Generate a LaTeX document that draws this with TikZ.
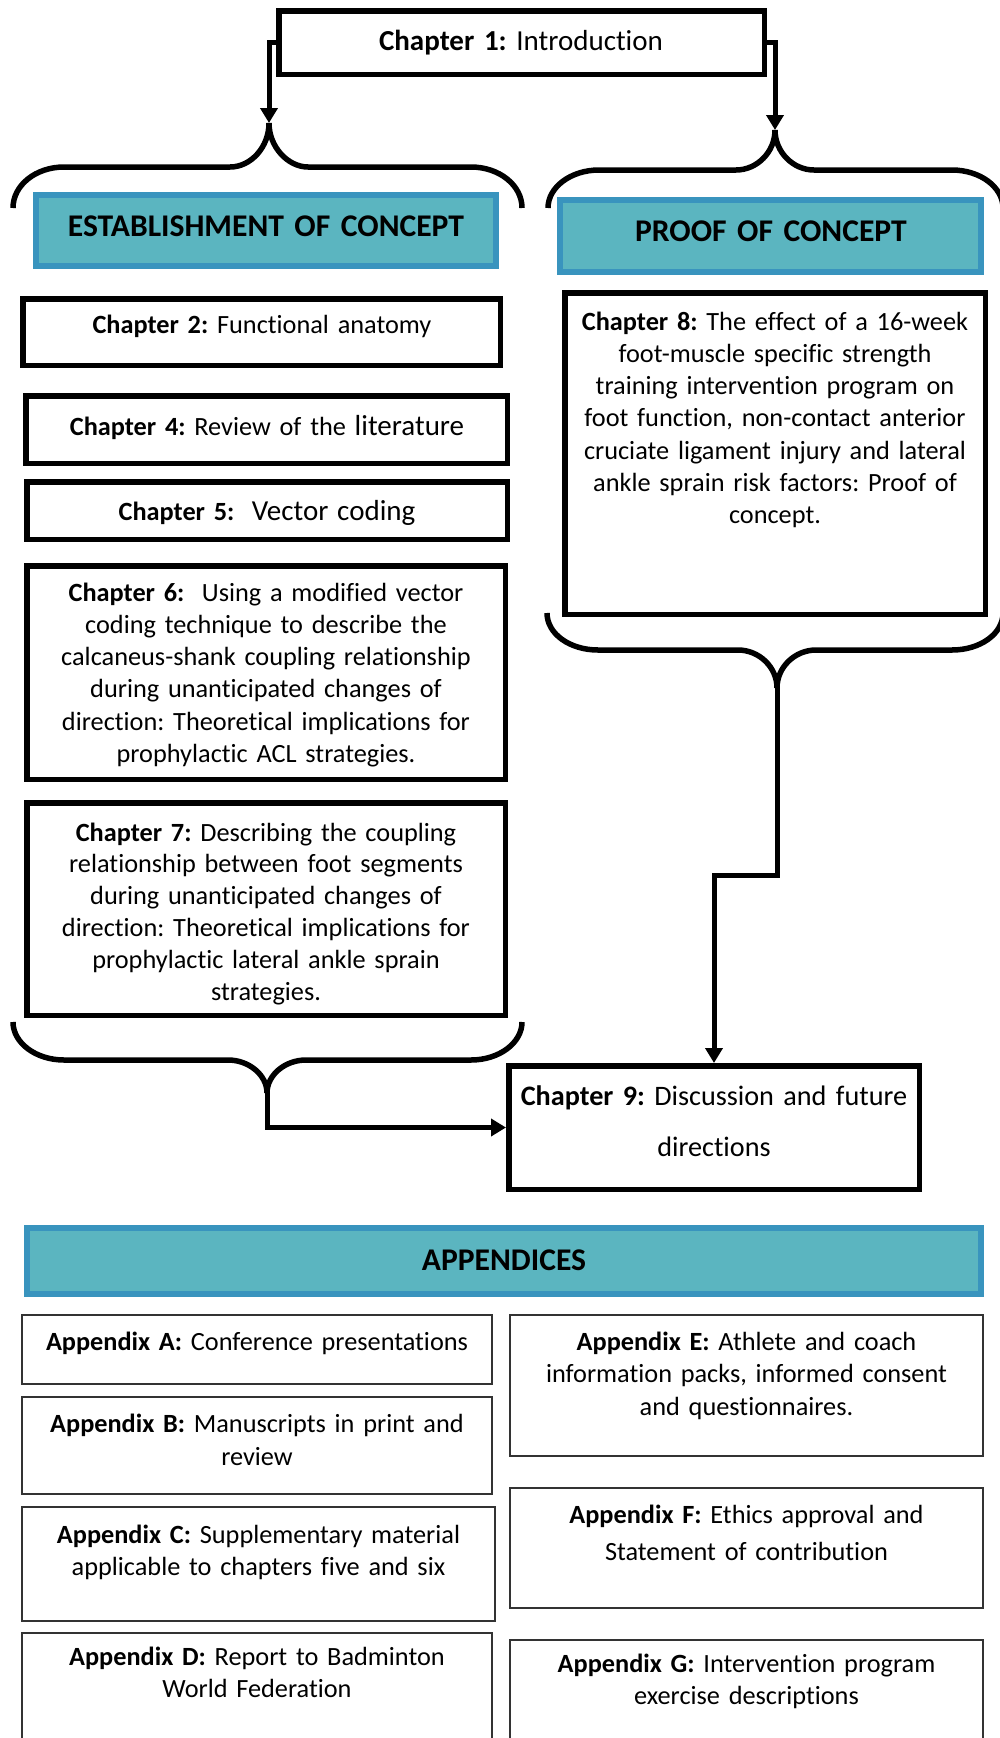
\documentclass[tikz,border=0pt]{standalone}
\usepackage{fontspec}
\setmainfont{Carlito}[Ligatures=NoCommon]
\usetikzlibrary{arrows.meta}
\definecolor{tealfill}{HTML}{5BB5C0}
\definecolor{tealedge}{HTML}{3994BE}
\definecolor{apedge}{HTML}{333333}
\frenchspacing
\hyphenpenalty=10000
\exhyphenpenalty=10000
\tikzset{
  chbox/.style={draw=black, line width=5.5pt, inner sep=0pt, rectangle},
  headbox/.style={draw=tealedge, fill=tealfill, line width=6pt, inner sep=0pt, rectangle},
  apbox/.style={draw=apedge, line width=2pt, inner sep=0pt, rectangle},
  txt/.style={anchor=base, inner sep=0pt, align=center, text width=#1},
  ften/.style={font=\fontsize{26.3}{32.3}\selectfont},
  feleven/.style={font=\fontsize{29}{35}\selectfont},
  fhead/.style={font=\fontsize{31.6}{38}\selectfont\bfseries},
  conn/.style={line width=5pt, -{Triangle[width=17pt,length=15pt]}},
  bracestyle/.style={line width=5.5pt},
}
\newcommand{\bigtxt}[1]{{\fontsize{29}{32.3}\selectfont #1}}
\begin{document}
\begin{tikzpicture}[x=1pt,y=-1pt]
\useasboundingbox (0,0) rectangle (1000,1738);
\fill[white] (0,0) rectangle (1000,1738);
\clip (0,0) rectangle (1000,1738);

% ---------- chapter boxes ----------
\node[chbox, minimum width=485.5pt, minimum height=63.5pt] (ch1) at (521.5,42.5) {};
\node[chbox, minimum width=477.5pt, minimum height=66.5pt] (ch2) at (261.5,332) {};
\node[chbox, minimum width=481.5pt, minimum height=67.5pt] (ch4) at (266.5,429.5) {};
\node[chbox, minimum width=480.5pt, minimum height=57.5pt] (ch5) at (267,510.5) {};
\node[chbox, minimum width=478.5pt, minimum height=213.5pt] (ch6) at (266,672.5) {};
\node[chbox, minimum width=478.5pt, minimum height=212.5pt] (ch7) at (266,909) {};
\node[chbox, minimum width=420.5pt, minimum height=321.5pt] (ch8) at (775,453.5) {};
\node[chbox, minimum width=410.5pt, minimum height=123.5pt] (ch9) at (714,1127.5) {};

% ---------- heading boxes ----------
\node[headbox, minimum width=460pt, minimum height=71pt] (est) at (266,230.5) {};
\node[headbox, minimum width=421pt, minimum height=72pt] (proof) at (770.5,236) {};
\node[headbox, minimum width=954pt, minimum height=66pt] (app) at (504,1261) {};

% ---------- appendix boxes ----------
\node[apbox, minimum width=470pt, minimum height=69pt] (apA) at (257,1349.5) {};
\node[apbox, minimum width=470pt, minimum height=97pt] (apB) at (257,1445.5) {};
\node[apbox, minimum width=473pt, minimum height=114pt] (apC) at (258.5,1564) {};
\node[apbox, minimum width=470pt, minimum height=126pt] (apD) at (257,1696) {};
\node[apbox, minimum width=473pt, minimum height=141pt] (apE) at (746.5,1385.5) {};
\node[apbox, minimum width=473pt, minimum height=120pt] (apF) at (746.5,1548) {};
\node[apbox, minimum width=473pt, minimum height=119pt] (apG) at (746.5,1699.5) {};

% ---------- texts ----------
\node[txt=470pt, feleven] (t1) at (521,50) {\textbf{Chapter 1:} Introduction};
\node[txt=450pt, fhead] (test) at (266,236) {ESTABLISHMENT OF CONCEPT};
\node[txt=410pt, fhead] (tproof) at (771,241) {PROOF OF CONCEPT};
\node[txt=900pt, fhead] (tapp) at (504,1270) {APPENDICES};

\node[txt=460pt, ften] (t2) at (262,333) {\textbf{Chapter 2:} Functional anatomy};
\node[txt=460pt, ften] (t4) at (267,435) {\textbf{Chapter 4:} Review of the \bigtxt{literature}};
\node[txt=460pt, ften] (t5) at (267,520) {\textbf{Chapter 5:}\ \ \bigtxt{Vector coding}};
\node[txt=460pt, ften] (t6) at (266,601) {\textbf{Chapter 6:}\ \ Using a modified vector\\coding technique to describe the\\calcaneus-shank coupling relationship\\during unanticipated changes of\\direction: Theoretical implications for\\prophylactic ACL strategies.};
\node[txt=460pt, font=\fontsize{26.3}{31.8}\selectfont] (t7) at (266,841) {\textbf{Chapter 7:} Describing the coupling\\relationship between foot segments\\during unanticipated changes of\\direction: Theoretical implications for\\prophylactic lateral ankle sprain\\strategies.};
\node[txt=410pt, ften] (t8) at (775,330) {\textbf{Chapter 8:} The effect of a 16-week\\foot-muscle specific strength\\training intervention program on\\foot function, non-contact anterior\\cruciate ligament injury and lateral\\ankle sprain risk factors: Proof of\\concept.};
\node[txt=405pt, font=\fontsize{28.2}{51}\selectfont] (t9) at (714,1105) {\textbf{Chapter 9:} Discussion and future\\directions};

\node[txt=460pt, ften] (tA) at (257,1350) {\textbf{Appendix A:} Conference presentations};
\node[txt=460pt, font=\fontsize{26.3}{33}\selectfont] (tB) at (257,1432) {\textbf{Appendix B:} Manuscripts in print and\\review};
\node[txt=460pt, font=\fontsize{26.3}{32}\selectfont] (tC) at (258.5,1543) {\textbf{Appendix C:} Supplementary material\\applicable to chapters five and six};
\node[txt=460pt, font=\fontsize{26.3}{32}\selectfont] (tD) at (257,1665) {\textbf{Appendix D:} Report to Badminton\\World Federation};
\node[txt=460pt, font=\fontsize{26.3}{32.5}\selectfont] (tE) at (746.5,1350) {\textbf{Appendix E:} Athlete and coach\\information packs, informed consent\\and questionnaires.};
\node[txt=460pt, font=\fontsize{26.3}{37}\selectfont] (tF) at (746.5,1523) {\textbf{Appendix F:} Ethics approval and\\Statement of contribution};
\node[txt=460pt, font=\fontsize{26.3}{32}\selectfont] (tG) at (746.5,1672) {\textbf{Appendix G:} Intervention program\\exercise descriptions};

% ---------- braces ----------
\coordinate (tipL1) at (269,123);
\coordinate (tipR1) at (775,130);
\coordinate (tipR2) at (777,688);
\coordinate (tipL2) at (267,1093);
\coordinate (bend) at (714,875);

\draw[bracestyle] (13,208) .. controls (13,185) and (36,167) .. (64,167) -- (230,167)
  .. controls (251,167) and (269,147) .. (tipL1)
  .. controls (269,147) and (288,167) .. (308,167) -- (471,167)
  .. controls (499,167) and (522,185) .. (522,208);
\draw[bracestyle] (548,208) .. controls (548,187) and (571,170) .. (599,170) -- (736,170)
  .. controls (757,170) and (775,152) .. (tipR1)
  .. controls (775,152) and (793,170) .. (814,170) -- (952,170)
  .. controls (980,170) and (1003,187) .. (1003,208);
\draw[bracestyle] (547,613) .. controls (547,634) and (570,650) .. (598,650) -- (738,650)
  .. controls (759,650) and (777,667) .. (tipR2)
  .. controls (777,667) and (795,650) .. (816,650) -- (952,650)
  .. controls (980,650) and (1003,634) .. (1003,613);
\draw[bracestyle] (13,1022) .. controls (13,1043) and (36,1060) .. (64,1060) -- (228,1060)
  .. controls (249,1060) and (267,1075) .. (tipL2)
  .. controls (267,1075) and (285,1060) .. (306,1060) -- (471,1060)
  .. controls (499,1060) and (522,1043) .. (522,1022);

% ---------- connectors ----------
\draw[conn] (ch1.west) -| (tipL1);
\draw[conn] (ch1.east) -| (tipR1);
\draw[conn] (tipR2) |- (bend) -- (ch9.north);
\draw[conn] (tipL2) |- (ch9.west);
\end{tikzpicture}
\end{document}
